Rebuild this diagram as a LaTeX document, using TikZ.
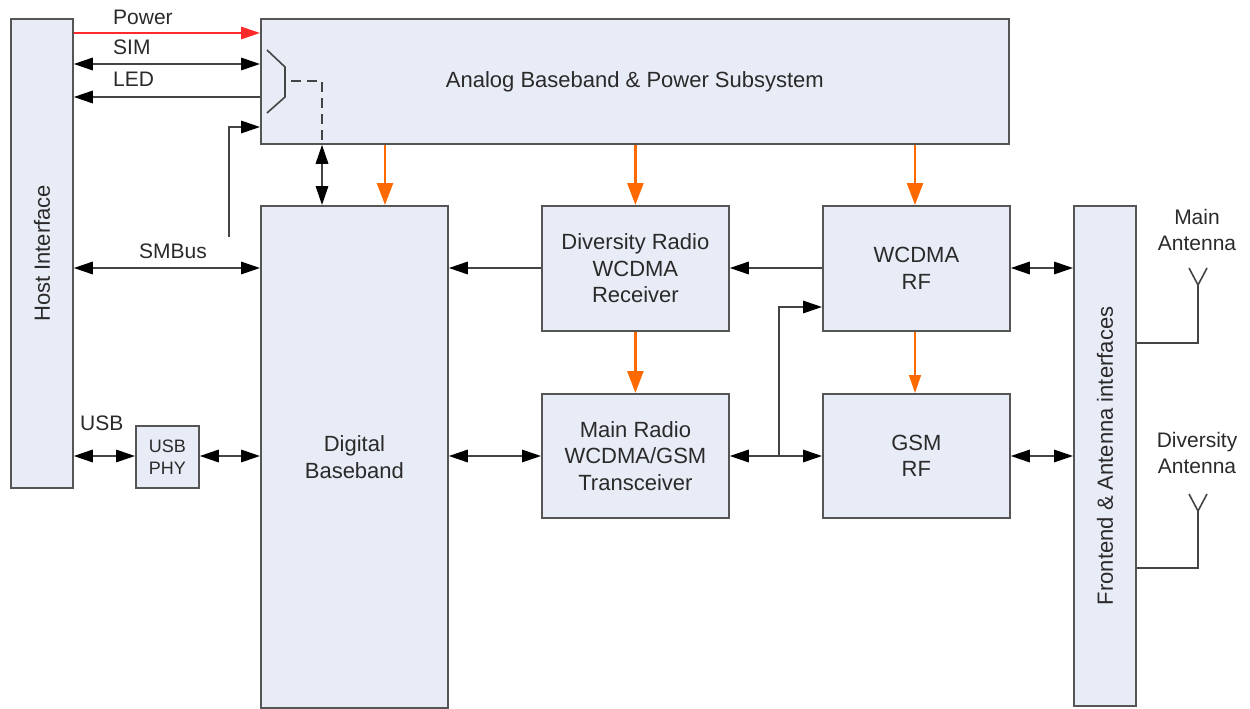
\documentclass[tikz,border=0pt]{standalone}
\usepackage{fontspec}
\setmainfont{Liberation Sans}
\usetikzlibrary{arrows.meta}
\definecolor{boxfill}{HTML}{E8ECF6}
\definecolor{boxline}{HTML}{555555}
\definecolor{orng}{HTML}{FF6A00}
\definecolor{pwr}{HTML}{FF2A2A}
\definecolor{txt}{HTML}{2A2A2A}
\definecolor{wire}{HTML}{444444}
\begin{document}
\begin{tikzpicture}[x=1pt,y=-1pt,
 blk/.style={draw=boxline, fill=boxfill, line width=1.8pt, inner sep=0pt, anchor=north west, align=center, text=txt, font=\fontsize{22}{26.5}\selectfont},
 lbl/.style={text=txt, font=\fontsize{21}{26.5}\selectfont, inner sep=0pt, align=center},
 tip/.tip={Triangle[length=19pt,width=12.5pt,color=black]},
 sig/.style={draw=wire, line width=1.6pt, -tip},
 dbl/.style={draw=wire, line width=1.6pt, tip-tip},
 pw/.style={draw=orng, line width=2.4pt, -{Triangle[length=22pt,width=16pt]}},
 plain/.style={draw=wire, line width=1.6pt},
]
\useasboundingbox (0,0) rectangle (1250,709);

% boxes
\node[blk, minimum width=62pt, minimum height=469pt] (host) at (10,18) {};
\node[lbl, rotate=90, font=\fontsize{22}{26}\selectfont] (hosttxt) at (host.center) {Host Interface};
\node[blk, minimum width=748pt, minimum height=125pt] (abb) at (260,18) {Analog Baseband \& Power Subsystem};
\node[blk, minimum width=187pt, minimum height=502pt] (dbb) at (260,205) {Digital\\Baseband};
\node[blk, minimum width=187pt, minimum height=125pt] (div) at (541,205) {Diversity Radio\\WCDMA\\Receiver};
\node[blk, minimum width=187pt, minimum height=124pt] (mr) at (541,393) {Main Radio\\WCDMA/GSM\\Transceiver};
\node[blk, minimum width=187pt, minimum height=125pt] (wrf) at (822,205) {WCDMA\\RF};
\node[blk, minimum width=187pt, minimum height=124pt] (grf) at (822,393) {GSM\\RF};
\node[blk, minimum width=62pt, minimum height=500pt] (fe) at (1073,205) {};
\node[lbl, rotate=90, font=\fontsize{22}{26}\selectfont] (fetxt) at (fe.center) {Frontend \& Antenna interfaces};
\node[blk, minimum width=63pt, minimum height=62pt, font=\fontsize{18}{22}\selectfont] (phy) at (135,425) {USB\\PHY};

% labels
\node[lbl, anchor=west] (lpower) at (113,17) {Power};
\node[lbl, anchor=west] (lsim) at (113,47) {SIM};
\node[lbl, anchor=west] (lled) at (113,79) {LED};
\node[lbl, anchor=west] (lsmb) at (139,251) {SMBus};
\node[lbl, anchor=west] (lusb) at (80,423) {USB};
\node[lbl] (lmain) at (1197,230) {Main\\Antenna};
\node[lbl] (ldiv) at (1197,453) {Diversity\\Antenna};

% host interface signals
\draw[draw=pwr, line width=1.6pt, -{Triangle[length=19pt,width=12.5pt,color=pwr]}] (host.east |- 0,33) -- (abb.west |- 0,33);
\draw[dbl] (host.east |- 0,64) -- (abb.west |- 0,64);
\draw[sig] (abb.west |- 0,97) -- (host.east |- 0,97);
\coordinate (smbtop) at (229,237);
\draw[sig] (smbtop) -- (229,127) -- (abb.west |- 0,127);
\draw[dbl] (host.east |- 0,268) -- (dbb.west |- 0,268);
\draw[dbl] (host.east |- 0,456) -- (phy.west |- 0,456);
\draw[dbl] (phy.east |- 0,456) -- (dbb.west |- 0,456);

% switch symbol and dashed link
\draw[plain] (267,50) -- (285,67) -- (285,97) -- (267,113);
\draw[plain, dashed, dash pattern=on 10pt off 6pt] (291,81) -- (322,81) -- (abb.south -| 322,0);
\draw[dbl] (abb.south -| 322,0) -- (dbb.north -| 322,0);

% power (orange) arrows
\draw[pw] (abb.south -| 385,0) -- (dbb.north -| 385,0);
\draw[pw] (abb.south -| div.north) -- (div.north);
\draw[pw] (abb.south -| 915,0) -- (wrf.north -| 915,0);
\draw[pw] (div.south) -- (mr.north);
\draw[pw, line width=1.6pt, -{Triangle[length=18pt,width=12pt]}] (wrf.south -| 915,0) -- (grf.north -| 915,0);

% data paths
\draw[sig] (div.west |- 0,268) -- (dbb.east |- 0,268);
\draw[sig] (wrf.west |- 0,268) -- (div.east |- 0,268);
\draw[dbl] (dbb.east |- 0,456) -- (mr.west |- 0,456);
\draw[dbl] (mr.east |- 0,456) -- (grf.west |- 0,456);
\draw[sig] (779,456) -- (779,307) -- (wrf.west |- 0,307);
\draw[dbl] (wrf.east |- 0,268) -- (fe.west |- 0,268);
\draw[dbl] (grf.east |- 0,456) -- (fe.west |- 0,456);

% antennas
\draw[plain] (fe.east |- 0,343) -- (1198,343) -- (1198,285);
\draw[plain] (1189,268) -- (1198,285) -- (1207,268);
\draw[plain] (fe.east |- 0,568) -- (1198,568) -- (1198,511);
\draw[plain] (1189,494) -- (1198,511) -- (1207,494);
\end{tikzpicture}
\end{document}
